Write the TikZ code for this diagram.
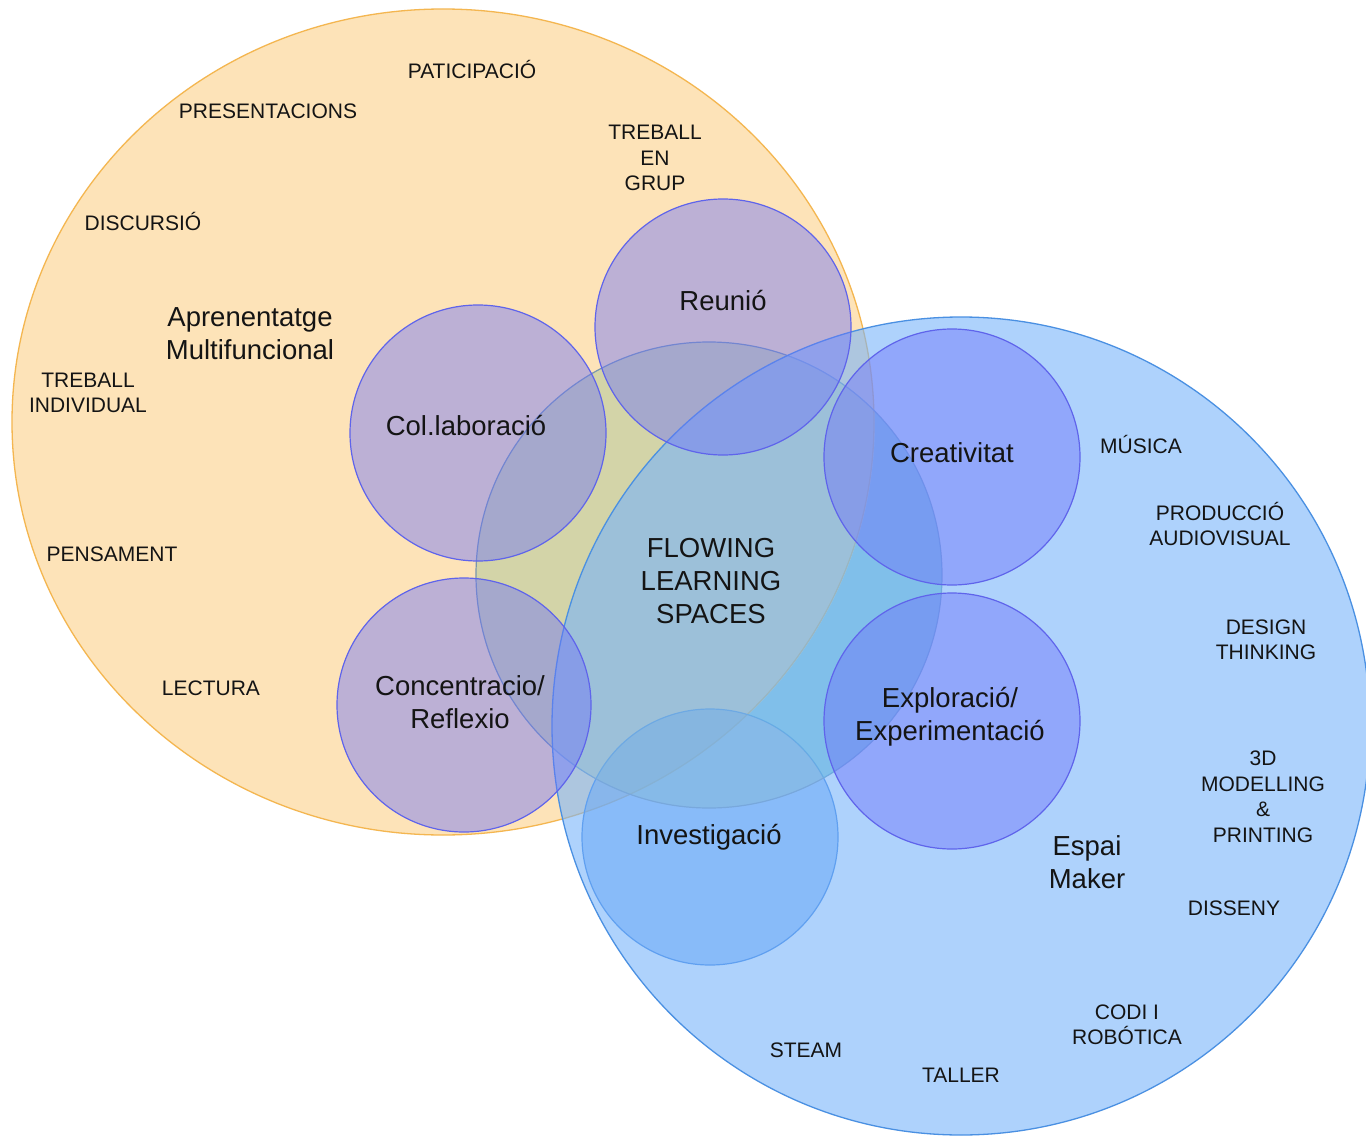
\documentclass[tikz,border=0pt]{standalone}
\usepackage{fontspec}
\setmainfont{Liberation Sans}
\definecolor{orfill}{RGB}{253,227,184}
\definecolor{orline}{RGB}{244,182,80}
\definecolor{blfill}{RGB}{120,180,250}
\definecolor{blline}{RGB}{74,144,226}
\definecolor{cefill}{RGB}{150,190,145}
\definecolor{celine}{RGB}{120,150,175}
\definecolor{skytint}{RGB}{85,180,234}
\definecolor{subfill}{RGB}{110,115,250}
\definecolor{subline}{RGB}{95,100,235}
\definecolor{invfill}{RGB}{70,145,245}
\definecolor{invline}{RGB}{60,130,225}
\definecolor{txt}{RGB}{20,20,20}
\begin{document}
\begin{tikzpicture}[x=1pt,y=-1pt,
  small/.style={font=\fontsize{21}{25.5}\selectfont, align=center, text=txt, inner sep=0pt},
  big/.style={font=\fontsize{27.5}{33}\selectfont, align=center, text=txt, inner sep=0pt},
  orangezone/.style={fill=orfill, draw=orline, line width=1.3pt},
  bluezone/.style={fill=blfill, fill opacity=0.6, draw=blline, line width=1.3pt},
  centrezone/.style={fill=cefill, fill opacity=0.4, draw=celine, line width=1.2pt},
  sub/.style={fill=subfill, fill opacity=0.45, draw=subline, line width=1.2pt},
  subinv/.style={fill=invfill, fill opacity=0.5, draw=invline, line width=1.2pt}]
\useasboundingbox (0,0) rectangle (1366,1137);
\fill[white] (0,0) rectangle (1366,1137);
% large zones
\draw[orangezone] (443,422) ellipse [x radius=431pt, y radius=413pt];
\draw[subinv] (710,837) circle [radius=128pt];
\draw[centrezone] (709,575) circle [radius=233pt];
\draw[bluezone] (961,726) circle [radius=409pt];
% sky tint of the centre circle where it lies only on the blue zone
\begin{scope}[even odd rule]
\clip (709,575) circle [radius=233pt];
\clip (961,726) circle [radius=409pt];
\clip (0,0) rectangle (1366,1137) (443,422) ellipse [x radius=432pt, y radius=414pt];
\clip (0,0) rectangle (1366,1137) (710,837) circle [radius=128pt];
\fill[skytint, fill opacity=0.4] (0,0) rectangle (1366,1137);
\end{scope}
% small circles
\draw[sub] (723,327) circle [radius=128pt];
\draw[sub] (478,433) circle [radius=128pt];
\draw[sub] (464,705) circle [radius=127pt];
\draw[sub] (952,457) circle [radius=128pt];
\draw[sub] (952,721) circle [radius=128pt];
% labels, orange zone
\node[small] (patic) at (472,69) {PATICIPACIÓ};
\node[small] (present) at (268,111) {PRESENTACIONS};
\node[small] (grup) at (655,158) {TREBALL\\EN\\GRUP};
\node[small] (discur) at (143,221) {DISCURSIÓ};
\node[big] (apren) at (250,334) {Aprenentatge\\Multifuncional};
\node[small] (indiv) at (88,393) {TREBALL\\INDIVIDUAL};
\node[small] (pensa) at (112,554) {PENSAMENT};
\node[small] (lect) at (211,688) {LECTURA};
% small circle labels
\node[big] (reunio) at (723,301) {Reunió};
\node[big] (colab) at (466,426) {Col.laboració};
\node[big] (concen) at (460,702) {Concentracio/\\Reflexio};
\node[big] (creat) at (952,453) {Creativitat};
\node[big] (explor) at (950,717) {Exploració/\\Experimentació};
\node[big] (invest) at (709,837) {Investigació};
\node[big] (flow) at (711,581) {FLOWING\\LEARNING\\SPACES};
% labels, blue zone
\node[small] (music) at (1141,444) {MÚSICA};
\node[small] (audio) at (1220,524) {PRODUCCIÓ\\AUDIOVISUAL};
\node[small] (design) at (1266,640) {DESIGN\\THINKING};
\node[small] (model) at (1263,797) {3D\\MODELLING\\\&\\PRINTING};
\node[big] (maker) at (1087,862) {Espai\\Maker};
\node[small] (disseny) at (1234,908) {DISSENY};
\node[small] (codi) at (1127,1025) {CODI I\\ROBÓTICA};
\node[small] (steam) at (806,1050) {STEAM};
\node[small] (taller) at (961,1075) {TALLER};
\end{tikzpicture}
\end{document}
